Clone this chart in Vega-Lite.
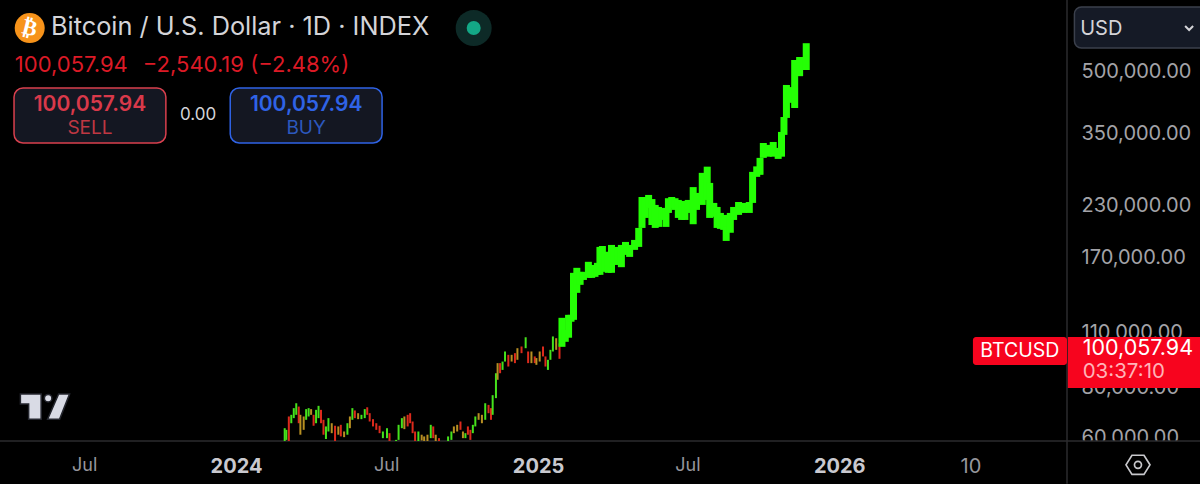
{"$schema":"https://vega.github.io/schema/vega-lite/v6.json","width":1067,"height":441,"padding":{"left":0,"top":0,"right":133,"bottom":43},"autosize":{"type":"none"},"background":"#000000","config":{"view":{"stroke":null},"font":"Inter"},
"title":{"text":"Bitcoin / U.S. Dollar · 1D · INDEX","anchor":"start","frame":"group","offset":0,"dx":51,"dy":61,"baseline":"alphabetic","font":"Inter","fontSize":25.3,"fontWeight":400,"color":"#d4d4d8"},
"datasets":{
"small":[
{"date":"2024-02-29","high":63150,"low":58000,"dir":"up"},{"date":"2024-03-02","high":62550,"low":59000,"dir":"up"},{"date":"2024-03-05","high":67600,"low":58000,"dir":"down"},{"date":"2024-03-08","high":68250,"low":65000,"dir":"up"},{"date":"2024-03-11","high":70950,"low":66950,"dir":"up"},{"date":"2024-03-14","high":73000,"low":68250,"dir":"up"},{"date":"2024-03-17","high":71600,"low":65000,"dir":"down"},{"date":"2024-03-19","high":68250,"low":60800,"dir":"mixed"},{"date":"2024-03-23","high":67600,"low":62550,"dir":"mixed"},{"date":"2024-03-26","high":70550,"low":66300,"dir":"up"},{"date":"2024-03-29","high":70950,"low":67600,"dir":"up"},{"date":"2024-04-01","high":70550,"low":68250,"dir":"mixed"},{"date":"2024-04-04","high":68250,"low":64050,"dir":"down"},{"date":"2024-04-07","high":70250,"low":65000,"dir":"up"},{"date":"2024-04-10","high":71900,"low":66950,"dir":"up"},{"date":"2024-04-13","high":70250,"low":65000,"dir":"down"},{"date":"2024-04-16","high":66300,"low":60800,"dir":"down"},{"date":"2024-04-19","high":63800,"low":59300,"dir":"up"},{"date":"2024-04-22","high":66950,"low":61950,"dir":"up"},{"date":"2024-04-26","high":65000,"low":61350,"dir":"mixed"},{"date":"2024-04-30","high":64050,"low":58000,"dir":"down"},{"date":"2024-05-04","high":63800,"low":60800,"dir":"mixed"},{"date":"2024-05-07","high":64400,"low":60200,"dir":"down"},{"date":"2024-05-11","high":61950,"low":59950,"dir":"mixed"},{"date":"2024-05-15","high":65000,"low":60800,"dir":"up"},{"date":"2024-05-18","high":67600,"low":63150,"dir":"mixed"},{"date":"2024-05-21","high":70950,"low":66300,"dir":"up"},{"date":"2024-05-24","high":70000,"low":66950,"dir":"down"},{"date":"2024-05-28","high":68900,"low":66550,"dir":"mixed"},{"date":"2024-06-01","high":68250,"low":66550,"dir":"up"},{"date":"2024-06-05","high":70550,"low":66950,"dir":"up"},{"date":"2024-06-08","high":71300,"low":68250,"dir":"down"},{"date":"2024-06-11","high":68900,"low":65650,"dir":"down"},{"date":"2024-06-15","high":66550,"low":63800,"dir":"down"},{"date":"2024-06-19","high":65000,"low":62550,"dir":"down"},{"date":"2024-06-23","high":64050,"low":61350,"dir":"down"},{"date":"2024-06-27","high":61950,"low":59600,"dir":"up"},{"date":"2024-07-02","high":63150,"low":59600,"dir":"up"},{"date":"2024-07-05","high":61350,"low":58000,"dir":"down"},{"date":"2024-07-13","high":59000,"low":58000,"dir":"up"},{"date":"2024-07-16","high":64400,"low":59000,"dir":"up"},{"date":"2024-07-20","high":66950,"low":63150,"dir":"up"},{"date":"2024-07-23","high":67600,"low":62800,"dir":"mixed"},{"date":"2024-07-27","high":68250,"low":63800,"dir":"down"},{"date":"2024-07-30","high":68900,"low":65000,"dir":"down"},{"date":"2024-08-02","high":65650,"low":61350,"dir":"down"},{"date":"2024-08-05","high":61950,"low":58000,"dir":"down"},{"date":"2024-08-09","high":61950,"low":58000,"dir":"up"},{"date":"2024-08-13","high":60800,"low":58800,"dir":"mixed"},{"date":"2024-08-16","high":60200,"low":58000,"dir":"mixed"},{"date":"2024-08-20","high":60800,"low":58000,"dir":"mixed"},{"date":"2024-08-24","high":64400,"low":59600,"dir":"up"},{"date":"2024-08-27","high":63800,"low":59600,"dir":"down"},{"date":"2024-08-30","high":60800,"low":58000,"dir":"mixed"},{"date":"2024-09-03","high":59600,"low":58000,"dir":"down"},{"date":"2024-09-14","high":60200,"low":58000,"dir":"up"},{"date":"2024-09-18","high":61950,"low":59000,"dir":"up"},{"date":"2024-09-21","high":63800,"low":61350,"dir":"mixed"},{"date":"2024-09-25","high":64400,"low":61950,"dir":"mixed"},{"date":"2024-09-29","high":65650,"low":62550,"dir":"down"},{"date":"2024-10-02","high":61950,"low":59600,"dir":"mixed"},{"date":"2024-10-05","high":61350,"low":59600,"dir":"up"},{"date":"2024-10-08","high":63800,"low":60800,"dir":"down"},{"date":"2024-10-11","high":62550,"low":59000,"dir":"down"},{"date":"2024-10-14","high":64400,"low":61350,"dir":"up"},{"date":"2024-10-17","high":67600,"low":63800,"dir":"up"},{"date":"2024-10-21","high":68900,"low":66300,"dir":"mixed"},{"date":"2024-10-25","high":68250,"low":65000,"dir":"mixed"},{"date":"2024-10-29","high":73000,"low":66300,"dir":"up"},{"date":"2024-11-02","high":72300,"low":68900,"dir":"down"},{"date":"2024-11-05","high":70950,"low":66300,"dir":"down"},{"date":"2024-11-07","high":76500,"low":68250,"dir":"up"},{"date":"2024-11-11","high":86900,"low":75200,"dir":"up"},{"date":"2024-11-13","high":92150,"low":83650,"dir":"mixed"},{"date":"2024-11-16","high":92150,"low":86900,"dir":"down"},{"date":"2024-11-19","high":93000,"low":88600,"dir":"up"},{"date":"2024-11-22","high":98600,"low":93000,"dir":"up"},{"date":"2024-11-26","high":96700,"low":90350,"dir":"down"},{"date":"2024-11-30","high":96700,"low":93000,"dir":"mixed"},{"date":"2024-12-04","high":97650,"low":92150,"dir":"down"},{"date":"2024-12-07","high":100500,"low":93950,"dir":"mixed"},{"date":"2024-12-12","high":101500,"low":97650,"dir":"down"},{"date":"2024-12-17","high":107100,"low":100500,"dir":"up"},{"date":"2024-12-20","high":98600,"low":92150,"dir":"down"},{"date":"2024-12-24","high":98600,"low":92150,"dir":"mixed"},{"date":"2024-12-28","high":95800,"low":92150,"dir":"down"},{"date":"2024-12-30","high":94900,"low":91250,"dir":"mixed"},{"date":"2025-01-03","high":98600,"low":93000,"dir":"mixed"},{"date":"2025-01-07","high":101500,"low":95800,"dir":"down"},{"date":"2025-01-10","high":95800,"low":90350,"dir":"down"},{"date":"2025-01-13","high":93950,"low":88600,"dir":"up"},{"date":"2025-01-16","high":99550,"low":93950,"dir":"up"},{"date":"2025-01-19","high":107600,"low":98600,"dir":"up"},{"date":"2025-01-23","high":106500,"low":99550,"dir":"mixed"},{"date":"2025-01-27","high":103300,"low":94500,"dir":"down"}],
"fat":[
{"date":"2025-01-30","high":119900,"low":101300},{"date":"2025-02-03","high":111800,"low":104300},{"date":"2025-02-07","high":122000,"low":106800},{"date":"2025-02-10","high":122000,"low":117200},{"date":"2025-02-13","high":155700,"low":118500},{"date":"2025-02-17","high":160300,"low":138600},{"date":"2025-02-21","high":156600,"low":145200},{"date":"2025-02-25","high":156600,"low":149400},{"date":"2025-03-03","high":166000,"low":151200},{"date":"2025-03-07","high":163000,"low":151200},{"date":"2025-03-11","high":160300,"low":152100},{"date":"2025-03-14","high":165000,"low":153900},{"date":"2025-03-17","high":181000,"low":153900},{"date":"2025-03-20","high":182000,"low":167900},{"date":"2025-03-23","high":176000,"low":156600},{"date":"2025-03-27","high":172800,"low":155700},{"date":"2025-03-31","high":183100,"low":155700},{"date":"2025-04-03","high":179900,"low":165000},{"date":"2025-04-08","high":181000,"low":163000},{"date":"2025-04-12","high":183100,"low":160900},{"date":"2025-04-17","high":186300,"low":172800},{"date":"2025-04-22","high":183100,"low":170800},{"date":"2025-04-28","high":188500,"low":177900},{"date":"2025-05-03","high":202100,"low":181000},{"date":"2025-05-07","high":241900,"low":202100},{"date":"2025-05-11","high":241900,"low":214200},{"date":"2025-05-15","high":244800,"low":227000},{"date":"2025-05-19","high":239000,"low":205600},{"date":"2025-05-23","high":231000,"low":202100},{"date":"2025-05-27","high":228300,"low":203300},{"date":"2025-05-31","high":227000,"low":211700},{"date":"2025-06-05","high":227000,"low":203300},{"date":"2025-06-08","high":240200,"low":220500},{"date":"2025-06-12","high":241900,"low":227000},{"date":"2025-06-16","high":240200,"low":224400},{"date":"2025-06-20","high":237800,"low":214200},{"date":"2025-06-24","high":236400,"low":211700},{"date":"2025-06-28","high":235000,"low":211700},{"date":"2025-07-02","high":237800,"low":220500},{"date":"2025-07-08","high":256200,"low":206500},{"date":"2025-07-12","high":247700,"low":224400},{"date":"2025-07-19","high":278300,"low":231000},{"date":"2025-07-25","high":288500,"low":237800},{"date":"2025-07-28","high":262500,"low":214200},{"date":"2025-08-02","high":233700,"low":215600},{"date":"2025-08-06","high":228300,"low":202100},{"date":"2025-08-10","high":220500,"low":201000},{"date":"2025-08-14","high":218000,"low":199800},{"date":"2025-08-17","high":203300,"low":187400},{"date":"2025-08-22","high":220500,"low":196500},{"date":"2025-08-26","high":228300,"low":211700},{"date":"2025-09-01","high":235000,"low":218000},{"date":"2025-09-07","high":233700,"low":220500},{"date":"2025-09-14","high":235000,"low":220500},{"date":"2025-09-18","high":279900,"low":233700},{"date":"2025-09-23","high":289000,"low":271900},{"date":"2025-09-27","high":303600,"low":275100},{"date":"2025-10-01","high":331000,"low":303600},{"date":"2025-10-07","high":327400,"low":305700},{"date":"2025-10-13","high":333000,"low":305700},{"date":"2025-10-19","high":321700,"low":301800},{"date":"2025-10-23","high":353000,"low":305700},{"date":"2025-10-26","high":385000,"low":347000},{"date":"2025-10-29","high":463700,"low":382900},{"date":"2025-11-02","high":458000,"low":418000},{"date":"2025-11-08","high":536100,"low":405600},{"date":"2025-11-14","high":545500,"low":488000},{"date":"2025-11-22","high":591000,"low":505800}]
},
"encoding":{
"x":{"field":"date","type":"temporal","title":null,"scale":{"type":"utc","domain":["2023-03-21","2026-10-04"]},"axis":{"orient":"bottom","values":["2023-07-01","2024-01-01","2024-07-01","2025-01-01","2025-07-01","2026-01-01","2026-06-09"],"labelExpr":"utcmonth(datum.value)==0 ? utcyear(datum.value) : utcmonth(datum.value)==6 ? 'Jul' : '10'","grid":false,"domain":false,"ticks":false,"labelPadding":15,"labelFont":"Inter","labelFontSize":{"condition":{"test":"utcmonth(datum.value)==6","value":18},"value":20},"labelFontWeight":{"condition":{"test":"utcmonth(datum.value)==0","value":700},"value":400},"labelColor":{"condition":{"test":"utcmonth(datum.value)==0","value":"#c9c9cf"},"value":"#96969c"},"labelFlush":false,"labelOverlap":false,"zindex":1}},
"y":{"field":"price","type":"quantitative","title":null,"scale":{"type":"log","domain":[58622,759600],"nice":false},"axis":{"orient":"right","values":[60000,80000,110000,170000,230000,350000,500000],"format":",.2f","grid":false,"domain":false,"ticks":false,"labelAlign":"left","labelPadding":14,"labelFont":"Inter","labelFontSize":20,"labelColor":"#a3a3a8","labelOverlap":false}}
},
"layer":[
{"data":{"values":[{"date":"2026-10-05","end":"2027-04-02","price":58622,"bottom":45700}]},"mark":{"type":"rect","fill":"#000000"},"encoding":{"x2":{"field":"end"},"y2":{"field":"bottom"}}},
{"data":{"values":[{"date":"2023-03-21","end":"2027-04-02","price":58622}]},"mark":{"type":"rule","stroke":"#2b2b2e","strokeWidth":1.5},"encoding":{"x2":{"field":"end"}}},
{"data":{"values":[{"date":"2026-10-04","price":759600,"bottom":45700}]},"mark":{"type":"rule","stroke":"#2b2b2e","strokeWidth":1.5},"encoding":{"y2":{"field":"bottom"}}},
{"data":{"name":"small"},"mark":{"type":"rule","strokeWidth":2,"clip":true},"encoding":{"y":{"field":"high","type":"quantitative"},"y2":{"field":"low"},"color":{"field":"dir","type":"nominal","legend":null,"scale":{"domain":["up","down","mixed"],"range":["#45e21c","#dc2a1c","#b88f22"]}}}},
{"data":{"name":"fat"},"mark":{"type":"rule","strokeWidth":7,"stroke":"#25ff05","clip":true},"encoding":{"y":{"field":"high","type":"quantitative"},"y2":{"field":"low"}}},
{"data":{"values":[{"date":"2023-04-07","end":"2023-10-08","price":455600,"bottom":331000}]},"mark":{"type":"rect","fill":"#141722","stroke":"#d9404e","strokeWidth":1.5,"cornerRadius":9},"encoding":{"x2":{"field":"end"},"y2":{"field":"bottom"}}},
{"data":{"values":[{"date":"2023-12-25","end":"2024-06-26","price":455600,"bottom":331000}]},"mark":{"type":"rect","fill":"#141722","stroke":"#2f63e6","strokeWidth":1.5,"cornerRadius":9},"encoding":{"x2":{"field":"end"},"y2":{"field":"bottom"}}},
{"data":{"values":[{"date":"2026-10-13","end":"2027-04-02","price":729300,"bottom":574800}]},"mark":{"type":"rect","fill":"#151a26","stroke":"#3b404c","strokeWidth":1.5,"cornerRadius":7},"encoding":{"x2":{"field":"end"},"y2":{"field":"bottom"}}},
{"data":{"values":[{"date":"2026-10-05","end":"2027-04-02","price":107300,"bottom":79800}]},"mark":{"type":"rect","fill":"#f7041e"},"encoding":{"x2":{"field":"end"},"y2":{"field":"bottom"}}},
{"data":{"values":[{"date":"2026-06-12","end":"2026-10-04","price":107300,"bottom":91200}]},"mark":{"type":"rect","fill":"#f7041e","cornerRadius":3},"encoding":{"x2":{"field":"end"},"y2":{"field":"bottom"}}},
{"data":{"values":[{"date":"2023-04-26","price":645500}]},"mark":{"type":"point","shape":"circle","filled":true,"size":900,"color":"#f7931a","opacity":1}},
{"data":{"values":[{"date":"2023-04-26","price":645500,"label":"₿"}]},"mark":{"type":"text","font":"DejaVu Sans","fontWeight":700,"fontSize":22,"angle":14,"color":"#ffffff","align":"center","baseline":"middle"},"encoding":{"text":{"field":"label"}}},
{"data":{"values":[{"date":"2024-10-15","price":645500}]},"mark":{"type":"point","shape":"circle","filled":true,"size":1296,"color":"#0d2a27","opacity":1}},
{"data":{"values":[{"date":"2024-10-15","price":645500}]},"mark":{"type":"point","shape":"circle","filled":true,"size":196,"color":"#13a886","opacity":1}},
{"data":{"values":[{"date":"2023-04-08","price":520800,"label":"100,057.94"},{"date":"2023-09-10","price":520800,"label":"−2,540.19 (−2.48%)"}]},"mark":{"type":"text","fontSize":22,"color":"#dc1a26","align":"left","baseline":"middle"},"encoding":{"text":{"field":"label"}}},
{"data":{"values":[{"date":"2023-07-08","price":412800,"label":"100,057.94"}]},"mark":{"type":"text","fontSize":21,"fontWeight":600,"color":"#d9394a","align":"center","baseline":"middle"},"encoding":{"text":{"field":"label"}}},
{"data":{"values":[{"date":"2023-07-08","price":361200,"label":"SELL"}]},"mark":{"type":"text","fontSize":19,"color":"#bf3742","align":"center","baseline":"middle"},"encoding":{"text":{"field":"label"}}},
{"data":{"values":[{"date":"2023-11-16","price":389500,"label":"0.00"}]},"mark":{"type":"text","fontSize":17,"color":"#d4d4d8","align":"center","baseline":"middle"},"encoding":{"text":{"field":"label"}}},
{"data":{"values":[{"date":"2024-03-26","price":412800,"label":"100,057.94"}]},"mark":{"type":"text","fontSize":21,"fontWeight":600,"color":"#2f63e6","align":"center","baseline":"middle"},"encoding":{"text":{"field":"label"}}},
{"data":{"values":[{"date":"2024-03-26","price":361200,"label":"BUY"}]},"mark":{"type":"text","fontSize":19,"color":"#2c58bd","align":"center","baseline":"middle"},"encoding":{"text":{"field":"label"}}},
{"data":{"values":[{"date":"2026-10-20","price":640000,"label":"USD"}]},"mark":{"type":"text","fontSize":20,"color":"#d4d4d8","align":"left","baseline":"middle"},"encoding":{"text":{"field":"label"}}},
{"data":{"values":[{"date":"2027-03-01","price":645500}]},"mark":{"type":"point","shape":"M-1,-0.5L0,0.5L1,-0.5","size":64,"filled":false,"stroke":"#d4d4d8","strokeWidth":2,"opacity":1}},
{"data":{"values":[{"date":"2026-06-21","price":98900,"label":"BTCUSD"}]},"mark":{"type":"text","fontSize":19.5,"color":"#ffffff","align":"left","baseline":"middle"},"encoding":{"text":{"field":"label"}}},
{"data":{"values":[{"date":"2026-10-23","price":100100,"label":"100,057.94"}]},"mark":{"type":"text","fontSize":21.5,"color":"#ffffff","align":"left","baseline":"middle"},"encoding":{"text":{"field":"label"}}},
{"data":{"values":[{"date":"2026-10-23","price":87600,"label":"03:37:10"}]},"mark":{"type":"text","fontSize":20.5,"color":"#ffb3b8","align":"left","baseline":"middle"},"encoding":{"text":{"field":"label"}}},
{"data":{"values":[{"date":"2023-05-15","price":72300}]},"mark":{"type":"point","shape":"M-1,-.44L-.17,-.44L-.17,.57L-.67,.57L-.67,-.04L-1,-.04ZM-.04,-.27a.15,.15 0 1,0 .3,0a.15,.15 0 1,0 -.3,0ZM.53,-.44L.97,-.44L.57,.57L.09,.57Z","size":2500,"filled":true,"fill":"#d9dbe5","stroke":"#24262e","strokeWidth":1.5,"opacity":1}},
{"data":{"values":[{"date":"2026-12-29","price":51040}]},"mark":{"type":"point","shape":"M-1,0L-.5,-.8L.5,-.8L1,0L.5,.8L-.5,.8Z","size":576,"filled":false,"stroke":"#c8c8cc","strokeWidth":1.7,"opacity":1}},
{"data":{"values":[{"date":"2026-12-29","price":51040}]},"mark":{"type":"point","shape":"circle","size":49,"filled":false,"stroke":"#c8c8cc","strokeWidth":1.7,"opacity":1}}
]}
